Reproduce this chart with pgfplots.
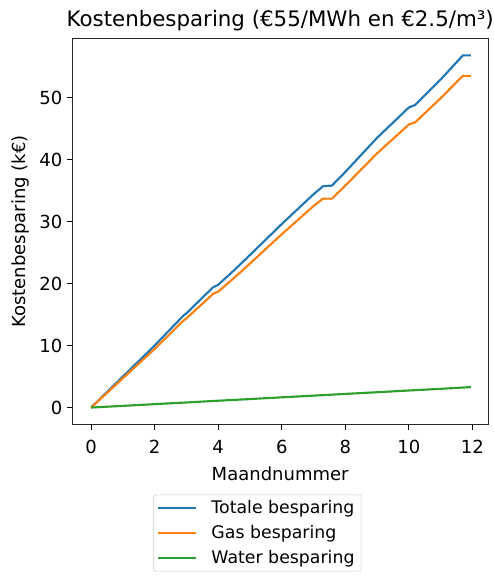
\documentclass[border=0pt]{standalone}
\usepackage{fontspec}
\setmainfont{DejaVu Sans}
\usepackage{pgfplots}
\pgfplotsset{compat=1.18}

\definecolor{mplblue}{HTML}{1F77B4}
\definecolor{mplorange}{HTML}{FF7F0E}
\definecolor{mplgreen}{HTML}{2CA02C}

\begin{document}
\begin{tikzpicture}
\begin{axis}[
    scale only axis,
    width=312pt, height=290pt,
    xmin=-0.6, xmax=12.5,
    ymin=-2.8, ymax=59.6,
    xtick={0,2,...,12},
    ytick={0,10,...,50},
    tick align=outside,
    xtick pos=bottom, ytick pos=left,
    major tick length=3.8pt,
    tick style={black, line width=0.6pt},
    axis line style={line width=0.7pt, black!85},
    /pgf/number format/assume math mode=true,
    font=\fontsize{13.5}{16}\selectfont,
    xticklabel style={yshift=-4pt},
    title={Kostenbesparing (€55/MWh en €2.5/m³)},
    title style={font=\fontsize{16}{19}\selectfont, yshift=-4pt},
    xlabel={Maandnummer},
    ylabel={Kostenbesparing (k€)},
    xlabel style={yshift=-3pt},
    ylabel style={yshift=1pt},
    legend style={at={(0.445,-0.18)}, anchor=north,
        draw=black!20, rounded corners=2pt,
        font=\fontsize{13}{15}\selectfont,
        row sep=3.5pt, inner xsep=3pt, inner ysep=2pt},
    legend cell align=left,
    legend image code/.code={\draw[#1] (0cm,0cm) -- (1.0cm,0cm); \path (1.3cm,0cm);},
    every axis plot/.append style={line width=1.6pt, line join=round},
]
\addplot[mplblue] coordinates {
(0,0)(1,5.0)(2,10.0)(2.9,14.8)(3.0,15.2)(3.84,19.4)(4.0,19.8)(4.47,22.0)
(5,24.6)(6,29.6)(7,34.4)(7.3,35.7)(7.58,35.8)(8,38.0)(9,43.5)(10,48.4)
(10.2,48.8)(11,52.9)(11.7,56.8)(11.95,56.8)
};
\addlegendentry{Totale besparing}
\addplot[mplorange] coordinates {
(0,0)(1,4.73)(2,9.45)(2.9,14.0)(3.0,14.38)(3.84,18.34)(4.0,18.7)(4.47,20.77)
(5,23.23)(6,27.95)(7,32.5)(7.3,33.7)(7.58,33.7)(8,35.8)(9,41.0)(10,45.65)
(10.2,46.0)(11,49.9)(11.7,53.5)(11.95,53.5)
};
\addlegendentry{Gas besparing}
\addplot[mplgreen] coordinates {
(0,0)(1,0.27)(2,0.55)(3,0.82)(4,1.1)(5,1.37)(6,1.65)(7,1.92)(8,2.2)
(9,2.47)(10,2.75)(11,3.02)(11.95,3.3)
};
\addlegendentry{Water besparing}
\end{axis}
\pgfresetboundingbox
\path[use as bounding box] ([shift={(-54pt,-115.5pt)}]current axis.south west) rectangle ([shift={(3.75pt,28.5pt)}]current axis.north east);
\end{tikzpicture}
\end{document}
